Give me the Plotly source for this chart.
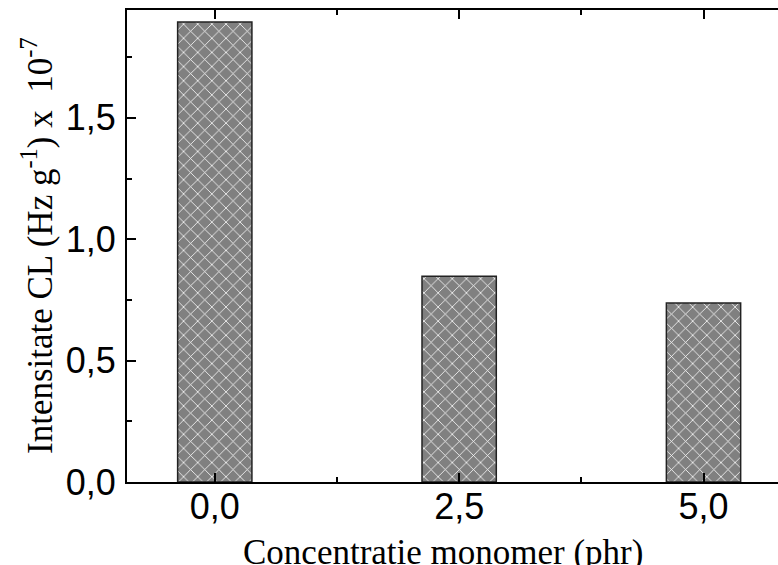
import plotly.graph_objects as go

concentratie = [0.0, 2.5, 5.0]
intensitate = [1.895, 0.847, 0.737]
x_ticks = [0.0, 2.5, 5.0]
y_ticks = [0.0, 0.5, 1.0, 1.5]

fig = go.Figure()
fig.add_trace(go.Bar(
    x=concentratie, y=intensitate, width=0.76,
    marker=dict(color="#808080",
                line=dict(color="#222222", width=1.5),
                pattern=dict(shape="x", fgcolor="white", bgcolor="#808080",
                             size=10, solidity=0.15, fillmode="replace")),
    showlegend=False,
))

axis_common = dict(showline=True, linecolor="black", linewidth=2,
                   ticks="inside", tickcolor="black", tickwidth=2, ticklen=9,
                   showgrid=False, zeroline=False,
                   tickfont=dict(family="Liberation Sans, Arial", size=36, color="black"))

fig.update_xaxes(range=[-0.898, 5.762], tickvals=x_ticks, tickformat=".1f",
                 mirror="ticks", ticklabelstandoff=-8,
                 minor=dict(ticks="inside", dtick=1.25, tick0=0, ticklen=5,
                            tickwidth=2, tickcolor="black", showgrid=False),
                 **axis_common)
fig.update_yaxes(range=[0, 1.944], tickvals=y_ticks, tickformat=".1f",
                 mirror=False, ticklabelstandoff=2,
                 minor=dict(ticks="inside", dtick=0.25, tick0=0, ticklen=5,
                            tickwidth=2, tickcolor="black", showgrid=False),
                 **axis_common)

fig.add_annotation(text="Concentratie monomer (phr)", xref="paper", yref="paper",
                   x=0.486, y=0, yshift=-49, xanchor="center", yanchor="top",
                   showarrow=False,
                   font=dict(family="Liberation Serif, Times New Roman", size=35, color="black"))
fig.add_annotation(text="Intensitate CL (Hz g<sup>-1</sup>) x  10<sup>-7</sup>",
                   xref="paper", yref="paper", x=0, y=0.5, xshift=-90,
                   xanchor="center", yanchor="middle", textangle=-90,
                   showarrow=False,
                   font=dict(family="Liberation Serif, Times New Roman", size=35, color="black"))

fig.update_layout(width=778, height=565, separators=", ",
                  margin=dict(l=127, r=0, t=10, b=83),
                  plot_bgcolor="white", paper_bgcolor="white")

fig.write_html("out.html")
